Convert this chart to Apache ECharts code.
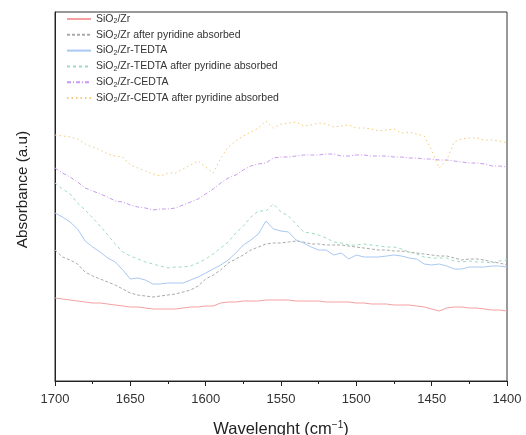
<!DOCTYPE html>
<html>
<head>
<meta charset="utf-8">
<script src="https://cdn.jsdelivr.net/npm/echarts@6/dist/echarts.min.js"></script>
<style>html,body{margin:0;padding:0;background:#fff}#chart{width:526px;height:435px}</style>
</head>
<body>
<div id="chart"></div>
<script>
const wavenumbers = [1700,1695,1690,1685,1680,1675,1670,1665,1660,1655,1650,1645,1640,1635,1630,1625,1620,1615,1610,1605,1600,1595,1590,1585,1580,1575,1570,1565,1560,1555,1550,1545,1540,1535,1530,1525,1520,1515,1510,1505,1500,1495,1490,1485,1480,1475,1470,1465,1460,1455,1450,1445,1440,1435,1430,1425,1420,1415,1410,1405,1400];

const seriesNames = [
  'SiO{sub|2}/Zr',
  'SiO{sub|2}/Zr after pyridine absorbed',
  'SiO{sub|2}/Zr-TEDTA',
  'SiO{sub|2}/Zr-TEDTA after pyridine absorbed',
  'SiO{sub|2}/Zr-CEDTA',
  'SiO{sub|2}/Zr-CEDTA after pyridine absorbed'
];

const sio2Zr = [83,82,81,80,79,78,78,77,76,75,74,74,73,72,72,72,72,73,74,74,75,75,78,79,79,80,80,80,81,81,81,81,80,80,80,80,79,79,79,79,78,78,77,77,77,76,76,76,75,74,72,70,73,74,74,73,73,72,71,71,70];
const sio2ZrPy = [131,124,121,117,109,105,102,99,96,92,88,86,85,84,85,86,87,89,91,95,102,106,111,118,122,126,131,134,137,138,138,139,140,139,137,137,136,136,136,135,134,133,132,131,131,130,130,129,128,127,126,125,125,123,121,122,122,121,119,118,116];
const tedta = [168,164,159,152,140,134,129,123,119,111,102,103,101,97,97,98,98,98,101,104,108,112,116,121,128,136,141,147,160,152,150,149,141,138,134,131,131,126,128,122,126,124,124,124,125,126,125,123,122,117,116,117,115,112,112,114,114,114,115,115,114];
const tedtaPy = [198,192,187,178,171,163,155,146,137,129,125,122,119,117,115,113,114,114,115,118,122,127,133,139,148,155,164,170,170,177,169,165,157,149,148,146,143,139,138,136,136,137,136,135,134,134,132,129,127,124,123,123,123,120,119,120,119,119,118,120,121];
const cedta = [213,208,204,199,193,190,187,184,180,179,176,174,173,171,172,172,173,176,179,182,187,192,198,203,206,211,215,217,218,223,224,224,225,226,226,226,227,227,225,225,226,226,225,225,225,224,224,223,223,222,222,221,221,220,219,218,218,217,215,215,214];
const cedtaPy = [246,245,244,242,237,234,231,227,225,224,216,213,210,207,205,208,208,212,216,220,214,208,223,234,240,245,249,253,260,253,257,258,259,255,256,258,257,254,255,256,253,253,252,250,251,252,248,249,247,245,231,213,221,239,242,243,243,241,241,240,238];

const xTicks = [1700,1650,1600,1550,1500,1450,1400];

const allValues = [sio2Zr, sio2ZrPy, tedta, tedtaPy, cedta, cedtaPy];
const colors = ['#f4a0a0','#aaaaaa','#a9c8f2','#9ddcbc','#c79af2','#f2cc78'];
const dashTypes = ['solid',[3,2],'solid',[3,3],[4,2,1,2],[1.5,3]];

const font = '"Liberation Sans", Arial, sans-serif';

const series = allValues.map((vals, i) => ({
  name: seriesNames[i],
  type: 'line',
  data: wavenumbers.map((w, j) => [w, vals[j]]),
  showSymbol: false,
  symbol: 'none',
  smooth: false,
  lineStyle: { color: colors[i], width: 1, type: dashTypes[i] },
  itemStyle: { color: colors[i] },
  z: 2
}));

const chart = echarts.init(document.getElementById('chart'), null, { renderer: 'canvas' });
chart.setOption({
  animation: false,
  backgroundColor: '#fff',
  grid: { left: 55, right: 19, top: 12, bottom: 54, show: true, borderColor: '#333', borderWidth: 1, backgroundColor: 'transparent', containLabel: false, outerBoundsMode: 'none' },
  legend: {
    orient: 'vertical', left: 66, top: 13,
    itemWidth: 24, itemHeight: 10, itemGap: 3.8,
    padding: 0,
    itemStyle: { color: 'transparent', borderWidth: 0, opacity: 0 },
    textStyle: {
      fontFamily: font, fontSize: 10.5, color: '#333', lineHeight: 12,
      rich: { sub: { fontSize: 7, lineHeight: 12, verticalAlign: 'bottom', padding: [4,0,0,0], fontFamily: font, color: '#333' } }
    }
  },
  xAxis: {
    type: 'value', min: 1400, max: 1700, interval: 50, inverse: true,
    axisLine: { show: true, lineStyle: { color: '#222', width: 1 } },
    axisTick: { show: true, length: 5, inside: false, lineStyle: { color: '#222' } },
    minorTick: { show: true, splitNumber: 2, length: 3, lineStyle: { color: '#222' } },
    splitLine: { show: false },
    axisLabel: { fontFamily: font, fontSize: 13, color: '#333', margin: 12, formatter: v => String(v) },
    name: 'Wavelenght (cm{sup|−1})',
    nameLocation: 'middle', nameGap: 39,
    nameTextStyle: { fontFamily: font, fontSize: 16.5, color: '#222',
      rich: { sup: { fontSize: 10, verticalAlign: 'top', padding: [0,0,9,0], fontFamily: font, color: '#222' } } }
  },
  yAxis: {
    type: 'value', min: 0, max: 369,
    axisLine: { show: true, lineStyle: { color: '#222', width: 1 } },
    axisTick: { show: false }, axisLabel: { show: false }, splitLine: { show: false },
    name: 'Absorbance (a.u)', nameLocation: 'middle', nameGap: 25,
    nameTextStyle: { fontFamily: font, fontSize: 15.3, color: '#222', padding: [0,0,0,14] }
  },
  series: series
});
</script>
</body>
</html>
